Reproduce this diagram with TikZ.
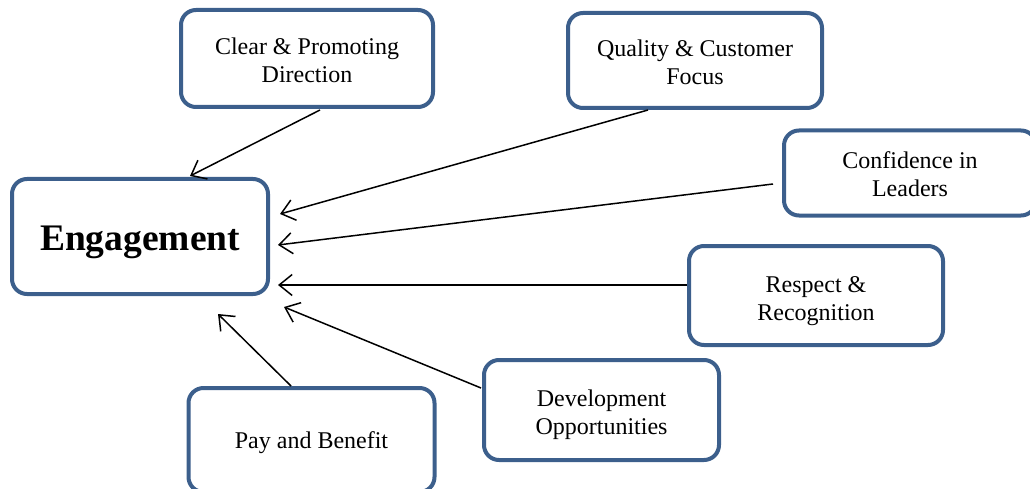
\documentclass[tikz,border=0pt]{standalone}
\usepackage{fontspec}
\setmainfont{Liberation Serif}
\usetikzlibrary{arrows.meta,calc}
\definecolor{boxblue}{RGB}{60,95,140}
\newcommand\boxtext[2][3pt]{\raisebox{-#1}[\height][\depth]{\begin{tabular}{@{}c@{}}#2\end{tabular}}}
\tikzset{
  box/.style={draw=boxblue, line width=4pt, rounded corners=15pt, fill=white,
    align=center, font=\fontsize{24}{28}\selectfont, inner sep=0pt},
  arr/.style={line width=1.5pt, draw=black,
    -{Straight Barb[length=13pt,width=21pt,line width=1.5pt]}},
}
\begin{document}
\begin{tikzpicture}[x=1pt,y=-1pt]
\useasboundingbox (0,0) rectangle (1030,489);
\node[box, minimum width=256pt, minimum height=115pt,
  font=\fontsize{37.5}{40}\selectfont\bfseries] (eng) at (140,236.5) {\boxtext[5.5pt]{Engagement}};
\node[box, minimum width=252pt, minimum height=97pt] (clear) at (307,58.5) {\boxtext[4pt]{Clear \& Promoting\\Direction}};
\node[box, minimum width=254pt, minimum height=95pt] (qual) at (695,60.5) {\boxtext[4.5pt]{Quality \& Customer\\Focus}};
\node[box, minimum width=252pt, minimum height=85pt] (conf) at (910,173) {\boxtext[4pt]{Confidence in\\Leaders}};
\node[box, minimum width=254pt, minimum height=99pt] (resp) at (816,295.5) {\boxtext[5pt]{Respect \&\\Recognition}};
\node[box, minimum width=235pt, minimum height=100pt] (dev) at (601.5,410) {\boxtext[5pt]{Development\\Opportunities}};
\node[box, minimum width=246pt, minimum height=104pt] (pay) at (311.5,440) {\boxtext[3pt]{Pay and Benefit}};
\draw[arr] ($(clear.south)+(13,1)$) -- ($(eng.north)+(50,-1)$);
\draw[arr] ($(qual.south)+(-47,0)$) -- ($(eng.east)+(10,-22.5)$);
\draw[arr] ($(conf.west)+(-9,11)$) -- ($(eng.east)+(8,8.5)$);
\draw[arr] ($(resp.west)+(0,-10.5)$) -- ($(eng.east)+(8,48.5)$);
\draw[arr] ($(dev.west)+(-1,-22)$) -- ($(eng.south east)+(14,11)$);
\draw[arr] ($(pay.north)+(-20.5,0)$) -- ($(eng.south)+(78,18)$);
\end{tikzpicture}
\end{document}
